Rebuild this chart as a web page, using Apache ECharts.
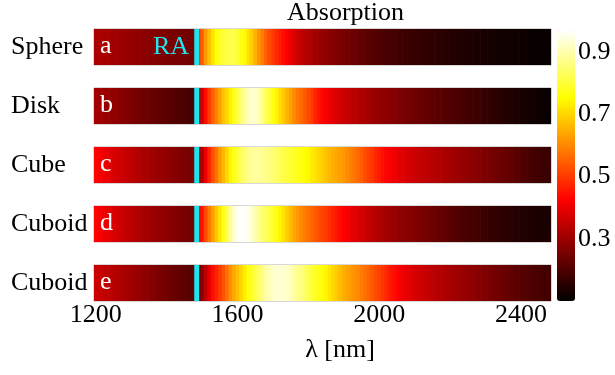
<!DOCTYPE html>
<html>
<head>
<meta charset="utf-8">
<script src="https://cdn.jsdelivr.net/npm/echarts@6/dist/echarts.min.js"></script>
<style>html,body{margin:0;padding:0;background:#fff}#chart{width:615px;height:375px}</style>
</head>
<body>
<div id="chart"></div>
<script>
var lambdaStart = 1200, lambdaStep = 10, lambdaCount = 129;
var shapes = ['Sphere', 'Disk', 'Cube', 'Cuboid', 'Cuboid'];
var letters = ['a', 'b', 'c', 'd', 'e'];
var raLambda = 1485;
var xTicks = [1200, 1600, 2000, 2400];

// absorption, 1200..2480 nm every 10 nm
var absSphere = [
  .32,.318,.315,.312,.31,.307,.304,.30,.297,.294,.29,.287,.284,.28,.277,.274,.271,.268,.265,.262,
  .26,.257,.255,.253,.251,.249,.247,.245,.244,
  .47,.55,.62,.675,.715,.755,.78,.80,.81,.815,
  .81,.80,.77,.75,.715,.69,.655,.615,.585,.55,
  .52,.50,.48,.46,.44,.42,.40,.38,.365,.35,
  .335,.325,.315,.305,.297,.29,.283,.276,.27,.264,
  .258,.252,.247,.242,.237,.232,.227,.222,.217,.212,
  .207,.203,.198,.194,.19,.187,.184,.181,.178,.175,
  .172,.169,.166,.163,.161,.159,.157,.155,.153,.151,
  .149,.147,.145,.143,.141,.14,.138,.137,.135,.133,
  .131,.13,.128,.127,.126,.124,.123,.122,.12,.119,
  .118,.117,.116,.115,.114,.113,.112,.112,.111,.11
];
var absDisk = [
  .31,.305,.30,.295,.29,.285,.28,.275,.27,.265,.26,.255,.25,.245,.24,.236,.232,.228,.224,.22,
  .216,.212,.208,.204,.20,.197,.194,.19,.187,
  .31,.37,.44,.50,.55,.59,.63,.675,.70,.735,
  .77,.81,.85,.88,.91,.93,.925,.90,.87,.83,
  .80,.77,.74,.71,.685,.655,.63,.60,.58,.56,
  .54,.52,.50,.47,.45,.43,.415,.405,.39,.38,
  .37,.36,.352,.345,.338,.33,.32,.315,.308,.30,
  .295,.29,.285,.28,.275,.27,.265,.26,.255,.25,
  .246,.242,.238,.234,.23,.226,.222,.218,.215,.211,
  .208,.204,.20,.197,.193,.189,.185,.182,.178,.175,
  .172,.168,.164,.16,.156,.152,.148,.145,.142,.138,
  .135,.132,.129,.126,.123,.12,.118,.115,.113,.11
];
var absCube = [
  .43,.42,.41,.40,.39,.38,.37,.365,.36,.35,.345,.335,.33,.32,.315,.31,.305,.30,.295,.29,
  .285,.28,.275,.27,.265,.26,.255,.252,.25,
  .29,.33,.40,.47,.53,.57,.62,.66,.70,.74,
  .77,.80,.83,.85,.87,.88,.885,.885,.88,.87,
  .86,.85,.84,.825,.815,.805,.795,.785,.775,.765,
  .755,.745,.73,.715,.70,.69,.675,.66,.65,.64,
  .63,.62,.605,.59,.575,.56,.545,.525,.51,.495,
  .475,.46,.445,.43,.42,.41,.40,.39,.385,.375,
  .37,.36,.355,.35,.345,.34,.335,.33,.325,.32,
  .315,.31,.305,.30,.295,.29,.285,.28,.275,.27,
  .265,.26,.255,.25,.245,.24,.235,.23,.225,.22,
  .212,.206,.2,.195,.19,.186,.182,.178,.175,.172
];
var absCuboidD = [
  .43,.42,.41,.40,.39,.38,.37,.36,.355,.345,.34,.33,.325,.315,.31,.305,.30,.295,.29,.285,
  .28,.275,.27,.265,.26,.255,.25,.245,.24,
  .38,.45,.52,.58,.63,.68,.72,.77,.83,.87,
  .93,.96,.97,.965,.955,.93,.90,.875,.85,.83,
  .81,.79,.765,.74,.715,.69,.665,.64,.62,.60,
  .585,.57,.555,.54,.525,.51,.50,.485,.47,.455,
  .44,.425,.41,.40,.39,.38,.37,.36,.35,.34,
  .332,.325,.318,.31,.30,.295,.29,.285,.28,.275,
  .27,.265,.26,.255,.25,.245,.24,.235,.23,.225,
  .22,.215,.21,.205,.20,.197,.193,.19,.186,.182,
  .178,.175,.171,.167,.163,.16,.157,.153,.15,.148,
  .146,.144,.142,.14,.138,.137,.136,.135,.134,.133
];
var absCuboidE = [
  .36,.355,.35,.345,.34,.334,.328,.322,.316,.31,.304,.298,.292,.286,.28,.274,.268,.262,.256,.25,
  .245,.24,.235,.23,.225,.22,.215,.21,.205,
  .23,.28,.34,.39,.44,.47,.50,.53,.57,.61,
  .64,.67,.70,.73,.76,.785,.81,.84,.865,.89,
  .91,.925,.93,.935,.93,.925,.91,.89,.875,.86,
  .84,.82,.80,.785,.77,.755,.74,.72,.70,.685,
  .665,.65,.635,.625,.61,.60,.585,.57,.555,.54,
  .525,.51,.495,.475,.455,.445,.43,.415,.405,.395,
  .385,.375,.368,.362,.355,.348,.342,.336,.33,.325,
  .32,.314,.308,.303,.298,.293,.288,.283,.278,.273,
  .268,.263,.258,.252,.247,.242,.237,.232,.227,.222,
  .217,.212,.208,.204,.2,.196,.193,.19,.187,.184
];
var strips = [absSphere, absDisk, absCube, absCuboidD, absCuboidE];
var cbMin = 0.1, cbMax = 0.97;

var lambdas = [];
for (var i = 0; i < lambdaCount; i++) lambdas.push(String(lambdaStart + i * lambdaStep));

var font = "'Liberation Serif', 'Times New Roman', serif";
var gridLeft = 94, gridWidth = 457, gridTop = 29, gridHeight = 36, gridGap = 59;
var cyan = '#20e3ec';

function renderCell(params, api) {
  var c = api.coord([api.value(0), api.value(1)]);
  var s = api.size([1, 1]);
  var last = api.value(0) === lambdaCount - 1;
  return {
    type: 'rect',
    shape: { x: c[0] - s[0] / 2, y: c[1] - s[1] / 2, width: s[0] + (last ? 0 : 0.7), height: s[1] },
    style: { fill: api.visual('color') }
  };
}

var grids = [], xAxes = [], yAxes = [], cells = [], lines = [], graphics = [];
strips.forEach(function (vals, k) {
  var top = gridTop + k * gridGap;
  var last = k === strips.length - 1;
  grids.push({ left: gridLeft, top: top, width: gridWidth, height: gridHeight,
    show: true, borderColor: '#b0b0b0', borderWidth: 1 });
  xAxes.push({
    type: 'category', gridIndex: k, data: lambdas,
    axisLine: { show: false }, axisTick: { show: false }, splitLine: { show: false },
    axisLabel: {
      show: last, color: '#000', fontSize: 26, fontFamily: font, margin: 1,
      interval: function (idx, v) { return xTicks.indexOf(+v) >= 0; }
    }
  });
  xAxes.push({ type: 'value', gridIndex: k, min: lambdaStart - lambdaStep / 2,
    max: lambdaStart + (lambdaCount - 0.5) * lambdaStep, show: false });
  yAxes.push({
    type: 'category', gridIndex: k, data: [shapes[k]],
    axisLine: { show: false }, axisTick: { show: false },
    axisLabel: { align: 'left', margin: 83, color: '#000', fontSize: 26, fontFamily: font, padding: [0, 0, 6, 0] }
  });
  yAxes.push({ type: 'value', gridIndex: k, min: 0, max: 1, show: false });
  cells.push({
    type: 'custom', xAxisIndex: 2 * k, yAxisIndex: 2 * k, silent: true,
    data: vals.map(function (v, i) { return [i, 0, v]; }),
    encode: { x: 0, y: 1 },
    renderItem: renderCell
  });
  lines.push({
    type: 'line', xAxisIndex: 2 * k + 1, yAxisIndex: 2 * k + 1,
    data: [[raLambda, 0], [raLambda, 1]], symbol: 'none', silent: true, z: 5,
    lineStyle: { color: cyan, width: 5 }
  });
  graphics.push({ type: 'text', x: 100, y: top + gridHeight / 2 - 1, z: 100,
    style: { text: letters[k], fill: '#fff', font: '26px ' + font, verticalAlign: 'middle' } });
});
graphics.push({ type: 'text', x: 153, y: gridTop + gridHeight / 2, z: 100,
  style: { text: 'RA', fill: cyan, font: '26px ' + font, verticalAlign: 'middle' } });
graphics.push({ type: 'text', x: 340, y: 350, z: 100,
  style: { text: 'λ [nm]', fill: '#000', font: '26px ' + font, align: 'center', verticalAlign: 'middle' } });

// colorbar tick axis
grids.push({ left: 557, top: 30, width: 18, height: 271 });
xAxes.push({ type: 'value', gridIndex: 5, show: false });
yAxes.push({
  type: 'value', gridIndex: 5, position: 'right', min: cbMin, max: cbMax, interval: 0.2,
  axisLine: { show: false }, axisTick: { show: false }, splitLine: { show: false },
  axisLabel: { showMinLabel: false, showMaxLabel: false, margin: 3, color: '#000', fontSize: 26,
    fontFamily: font, padding: [4, 0, 0, 0], formatter: function (v) { return v.toFixed(1); } }
});

var chart = echarts.init(document.getElementById('chart'));
chart.setOption({
  animation: false,
  title: { text: 'Absorption', left: 287, top: 0, padding: 0,
    textStyle: { color: '#000', fontSize: 26, fontWeight: 'normal', fontFamily: font } },
  grid: grids,
  xAxis: xAxes,
  yAxis: yAxes,
  visualMap: {
    type: 'continuous', min: cbMin, max: cbMax, dimension: 2, seriesIndex: [0, 1, 2, 3, 4],
    calculable: false, left: 557, top: 30, itemWidth: 18, itemHeight: 271, padding: 0,
    inRange: { color: ['#000000', '#550000', '#aa0000', '#ff0000', '#ff5500', '#ffaa00',
      '#ffff00', '#ffff80', '#ffffff'] }
  },
  graphic: graphics,
  series: cells.concat(lines)
});
</script>
</body>
</html>
